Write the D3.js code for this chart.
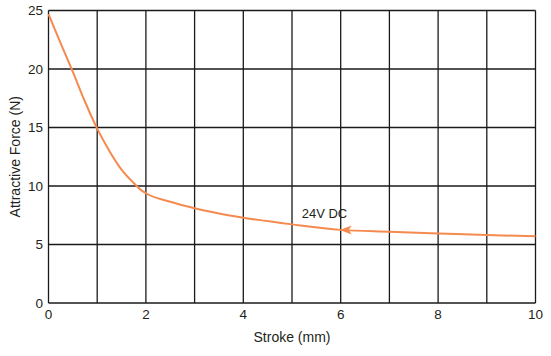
<!DOCTYPE html>
<html><head><meta charset="utf-8">
<script src="https://cdn.jsdelivr.net/npm/d3@7"></script>
<style>body{margin:0;background:#fff}svg{display:block}text{font-family:"Liberation Sans",Arial,sans-serif;fill:#231f20}</style>
</head><body><svg id="c" width="551" height="356"></svg>
<script>
const strokeMm = [0,0.25,0.5,0.75,1,1.25,1.5,1.75,1.9,2,2.5,3,3.5,4,5,6,7,8,9,10];
const forceN   = [24.7,22.2,19.75,17.2,14.9,13.0,11.4,10.25,9.65,9.38,8.65,8.09,7.65,7.29,6.72,6.25,6.09,5.95,5.81,5.70];
const xTicks = [0,2,4,6,8,10];
const yTicks = [0,5,10,15,20,25];
const xGrid = [0,1,2,3,4,5,6,7,8,9,10];
const seriesLabel = "24V DC";
const xTitle = "Stroke (mm)";
const yTitle = "Attractive Force (N)";

const svg = d3.select("#c");
const m = {l:48.5, r:535.5, t:10.5, b:303};
const x = d3.scaleLinear().domain([0,10]).range([m.l,m.r]);
const y = d3.scaleLinear().domain([0,25]).range([m.b,m.t]);

const g = svg.append("g");
g.selectAll("line.v").data(xGrid).enter().append("line")
  .attr("x1",d=>x(d)).attr("x2",d=>x(d)).attr("y1",m.t).attr("y2",m.b)
  .attr("stroke","#1a1a1a").attr("stroke-width",1.3);
g.selectAll("line.h").data(yTicks).enter().append("line")
  .attr("y1",d=>y(d)).attr("y2",d=>y(d)).attr("x1",m.l).attr("x2",m.r)
  .attr("stroke","#1a1a1a").attr("stroke-width",1.3);

svg.selectAll("text.xt").data(xTicks).enter().append("text")
  .attr("x",d=>x(d)).attr("y",319).attr("text-anchor","middle").attr("font-size",13.5).text(d=>d);
svg.selectAll("text.yt").data(yTicks).enter().append("text")
  .attr("x",43).attr("y",d=>y(d)+4.8).attr("text-anchor","end").attr("font-size",13.5).text(d=>d);

svg.append("text").attr("x",(m.l+m.r)/2).attr("y",342).attr("text-anchor","middle").attr("font-size",14).text(xTitle);
svg.append("text").attr("transform",`translate(20,${(m.t+m.b)/2}) rotate(-90)`).attr("text-anchor","middle").attr("font-size",14).text(yTitle);

const pts = strokeMm.map((d,i)=>[d,forceN[i]]);
const line = d3.line().x(d=>x(d[0])).y(d=>y(d[1])).curve(d3.curveMonotoneX);
svg.append("path").attr("d",line(pts)).attr("fill","none").attr("stroke","#f58a4e").attr("stroke-width",2);

// arrow at 6 mm pointing left
const ax = x(6)-1, ay = y(forceN[strokeMm.indexOf(6)]);
svg.append("path").attr("d",`M${ax},${ay} L${ax+12},${ay-4.5} L${ax+9},${ay} L${ax+12},${ay+4.5} Z`)
  .attr("fill","#f58a4e");

svg.append("text").attr("x",x(5.2)).attr("y",218).attr("font-size",13).text(seriesLabel);
</script></body></html>
